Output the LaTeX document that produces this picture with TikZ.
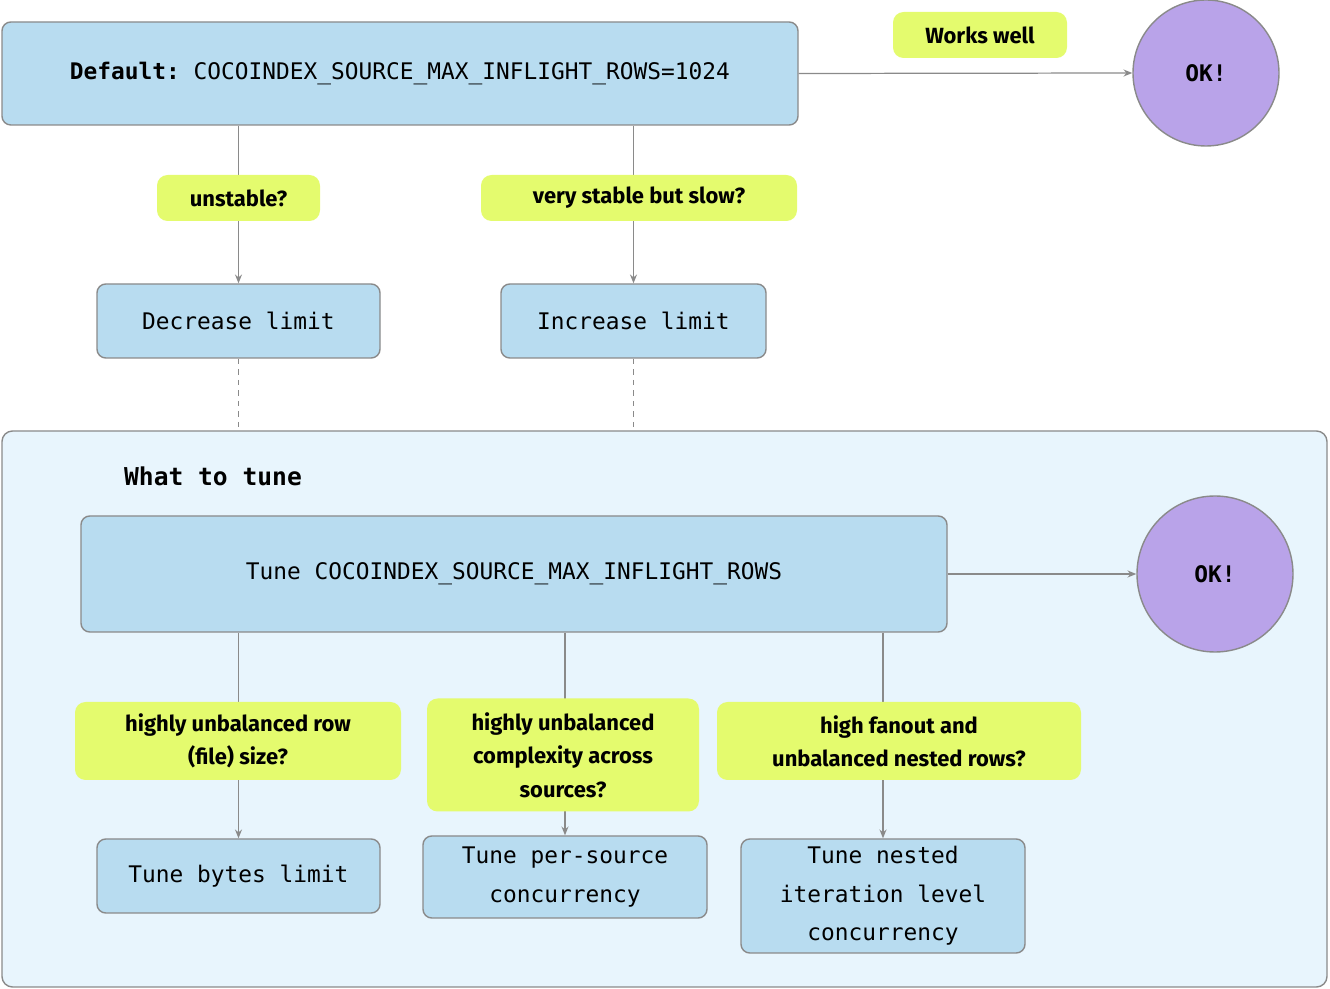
\documentclass[tikz,border=0pt]{standalone}
\usepackage{fontspec}
\setmainfont{Fira Sans}
\setmonofont{DejaVu Sans Mono}
\usetikzlibrary{positioning,arrows.meta}
\definecolor{boxblue}{HTML}{B8DCF0}
\definecolor{clusblue}{HTML}{E8F5FD}
\definecolor{lablime}{HTML}{E4FB6E}
\definecolor{okpurple}{HTML}{B9A3E9}
\definecolor{edgegray}{HTML}{8A8A8A}
\tikzset{
  box/.style={draw=edgegray, fill=boxblue, rounded corners=5pt, line width=0.8pt,
    font=\ttfamily\fontsize{13}{22}\selectfont, align=center, inner sep=0pt},
  lab/.style={fill=lablime, rounded corners=6pt, font=\bfseries\fontsize{12.5}{19}\selectfont,
    align=center, inner sep=0pt},
  ok/.style={circle, draw=edgegray, fill=okpurple, line width=0.8pt,
    font=\ttfamily\bfseries\fontsize{13}{16}\selectfont, inner sep=0pt},
  arr/.style={draw=edgegray, line width=0.7pt, -{Stealth[length=5pt,width=4pt]}},
  link/.style={draw=edgegray, line width=0.7pt, dashed}
}
\begin{document}
\begin{tikzpicture}[x=0.02cm,y=-0.02cm]
  \useasboundingbox (0,0) rectangle (1330,989);
  %% cluster
  \node[draw=edgegray, fill=clusblue, rounded corners=6pt, line width=0.8pt,
    minimum width=1325*0.02cm, minimum height=556*0.02cm, inner sep=0pt] (clus) at (664.5,709) {};
  \node[font=\ttfamily\bfseries\fontsize{14}{16}\selectfont] (title) at (213,476) {What to tune};
  %% top part
  \node[box, minimum width=796*0.02cm, minimum height=103*0.02cm] (default) at (400,73.5)
    {\textbf{Default:} COCOINDEX\_SOURCE\_MAX\_INFLIGHT\_ROWS=1024};
  \node[ok, minimum size=146*0.02cm] (ok1) at (1206,73) {OK!};
  \node[box, minimum width=283*0.02cm, minimum height=74*0.02cm] (decrease) at (238.5,321) {Decrease limit};
  \node[box, minimum width=265*0.02cm, minimum height=74*0.02cm] (increase) at (633.5,321) {Increase limit};
  %% inside cluster
  \node[box, minimum width=866*0.02cm, minimum height=116*0.02cm] (tune) at (514,574)
    {Tune COCOINDEX\_SOURCE\_MAX\_INFLIGHT\_ROWS};
  \node[ok, minimum size=156*0.02cm] (ok2) at (1215,574) {OK!};
  \node[box, minimum width=283*0.02cm, minimum height=74*0.02cm] (bytes) at (238.5,876) {Tune bytes limit};
  \node[box, minimum width=284*0.02cm, minimum height=82*0.02cm] (persource) at (565,877)
    {Tune per-source\\concurrency};
  \node[box, minimum width=284*0.02cm, minimum height=114*0.02cm] (nested) at (883,896)
    {Tune nested\\iteration level\\concurrency};
  %% connectors
  \draw[arr] (default.east) -- (ok1.west);
  \draw[arr] (default.south -| decrease.north) -- (decrease.north);
  \draw[arr] (default.south -| increase.north) -- (increase.north);
  \draw[link] (decrease.south) -- (decrease.south |- clus.north);
  \draw[link] (increase.south) -- (increase.south |- clus.north);
  \draw[arr] (tune.east) -- (ok2.west);
  \draw[arr] (tune.south -| bytes.north) -- (bytes.north);
  \draw[arr] (tune.south -| persource.north) -- (persource.north);
  \draw[arr] (tune.south -| nested.north) -- (nested.north);
  %% edge labels
  \node[lab, minimum width=174*0.02cm, minimum height=46*0.02cm] (lwell) at (980,35) {Works well};
  \node[lab, minimum width=163*0.02cm, minimum height=46*0.02cm] (lunstable) at (238.5,198) {unstable?};
  \node[lab, minimum width=316*0.02cm, minimum height=46*0.02cm] (lslow) at (639,198) {very stable but slow?};
  \node[lab, minimum width=326*0.02cm, minimum height=78*0.02cm] (lrow) at (238,741)
    {highly unbalanced row\\(file) size?};
  \node[lab, minimum width=272*0.02cm, minimum height=113*0.02cm] (lcomplex) at (563,755)
    {highly unbalanced\\complexity across\\sources?};
  \node[lab, minimum width=364*0.02cm, minimum height=78*0.02cm] (lfanout) at (899,741)
    {high fanout and\\unbalanced nested rows?};
\end{tikzpicture}
\end{document}
